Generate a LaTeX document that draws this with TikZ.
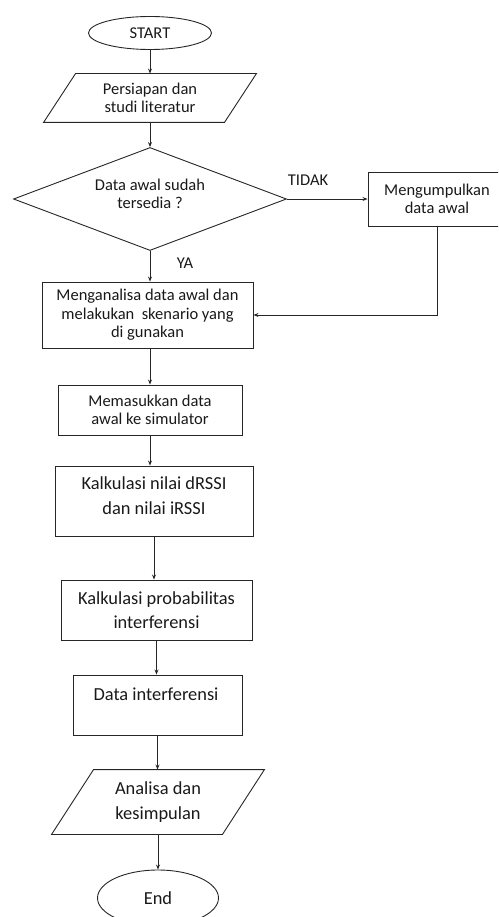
\documentclass[tikz,border=0pt]{standalone}
\usepackage{fontspec}
\setmainfont{Carlito}
\usetikzlibrary{shapes.geometric,arrows.meta}
\begin{document}
\begin{tikzpicture}[x=1pt,y=-1pt,
  line width=0.9pt, draw=black!85,
  sm/.style={font=\fontsize{16.5}{18.5}\selectfont, align=center, text=black!90},
  lg/.style={font=\fontsize{18.4}{24.5}\selectfont, align=center, text=black!90},
  box/.style={draw, rectangle, inner sep=0pt},
  oval/.style={draw, ellipse, inner sep=0pt},
  arr/.style={draw=black!85, -{Stealth[length=5pt,width=4pt]}}]
\clip (0,0) rectangle (498,917);
% terminals
\node[oval, minimum width=123pt, minimum height=33pt, sm] (start) at (150,33) {START};
\node[oval, minimum width=121pt, minimum height=56pt, lg] (end) at (158,898) {End};
% input/output parallelograms
\node[sm, minimum width=180pt, minimum height=48pt, inner sep=0pt] (p1) at (150,98) {Persiapan dan\\studi literatur};
\draw ([xshift=16pt]p1.north west) -- ([xshift=16pt]p1.north east) -- ([xshift=-16pt]p1.south east) -- ([xshift=-16pt]p1.south west) -- cycle;
\node[lg, minimum width=170pt, minimum height=64pt, inner sep=0pt] (p2) at (158,802) {Analisa dan\\kesimpulan};
\draw ([xshift=21pt]p2.north west) -- ([xshift=21pt]p2.north east) -- ([xshift=-21pt]p2.south east) -- ([xshift=-21pt]p2.south west) -- cycle;
% decision
\node[draw, diamond, minimum width=273pt, minimum height=103pt, inner sep=0pt] (dia) at (150,199) {};
\node[sm] (diat) at (150,194) {Data awal sudah\\tersedia ?};
% process boxes
\node[box, minimum width=138pt, minimum height=54pt, sm] (mg) at (437,199) {Mengumpulkan\\data awal};
\node[box, minimum width=211pt, minimum height=66pt, sm] (b1) at (147.5,315) {Menganalisa data awal\ dan\\melakukan\ \ skenario yang\\di gunakan};
\node[box, minimum width=184pt, minimum height=50pt, sm] (b2) at (150,410) {Memasukkan data\\awal ke simulator};
\node[box, minimum width=198pt, minimum height=70pt] (b3) at (154,501) {};
\node[lg] (b3t) at (154,495.5) {Kalkulasi nilai dRSSI\\dan nilai iRSSI};
\node[box, minimum width=191pt, minimum height=60pt, lg] (b4) at (156.5,610) {Kalkulasi probabilitas\\interferensi};
\node[box, minimum width=169pt, minimum height=60pt] (b5) at (157.5,705) {};
\node[lg] (b5t) at (156,694) {Data interferensi};
% labels
\node[sm] (tidak) at (308,180) {TIDAK};
\node[sm] (ya) at (185,263) {YA};
% connectors
\draw[arr] (start.south) -- (p1.north);
\draw[arr] (p1.south) -- (dia.north);
\draw[arr] (dia.south) -- (dia.south |- b1.north);
\draw[arr] (dia.east) -- (mg.west);
\draw[arr] (mg.south) |- (b1.east);
\draw[arr] (b2.north |- b1.south) -- (b2.north);
\draw[arr] (b2.south) -- (b2.south |- b3.north);
\draw[arr] (b3.south) -- (b3.south |- b4.north);
\draw[arr] (b4.south) -- (b4.south |- b5.north);
\draw[arr] (b5.south) -- (b5.south |- p2.north);
\draw[arr] (p2.south) -- (end.north);
\end{tikzpicture}
\end{document}
